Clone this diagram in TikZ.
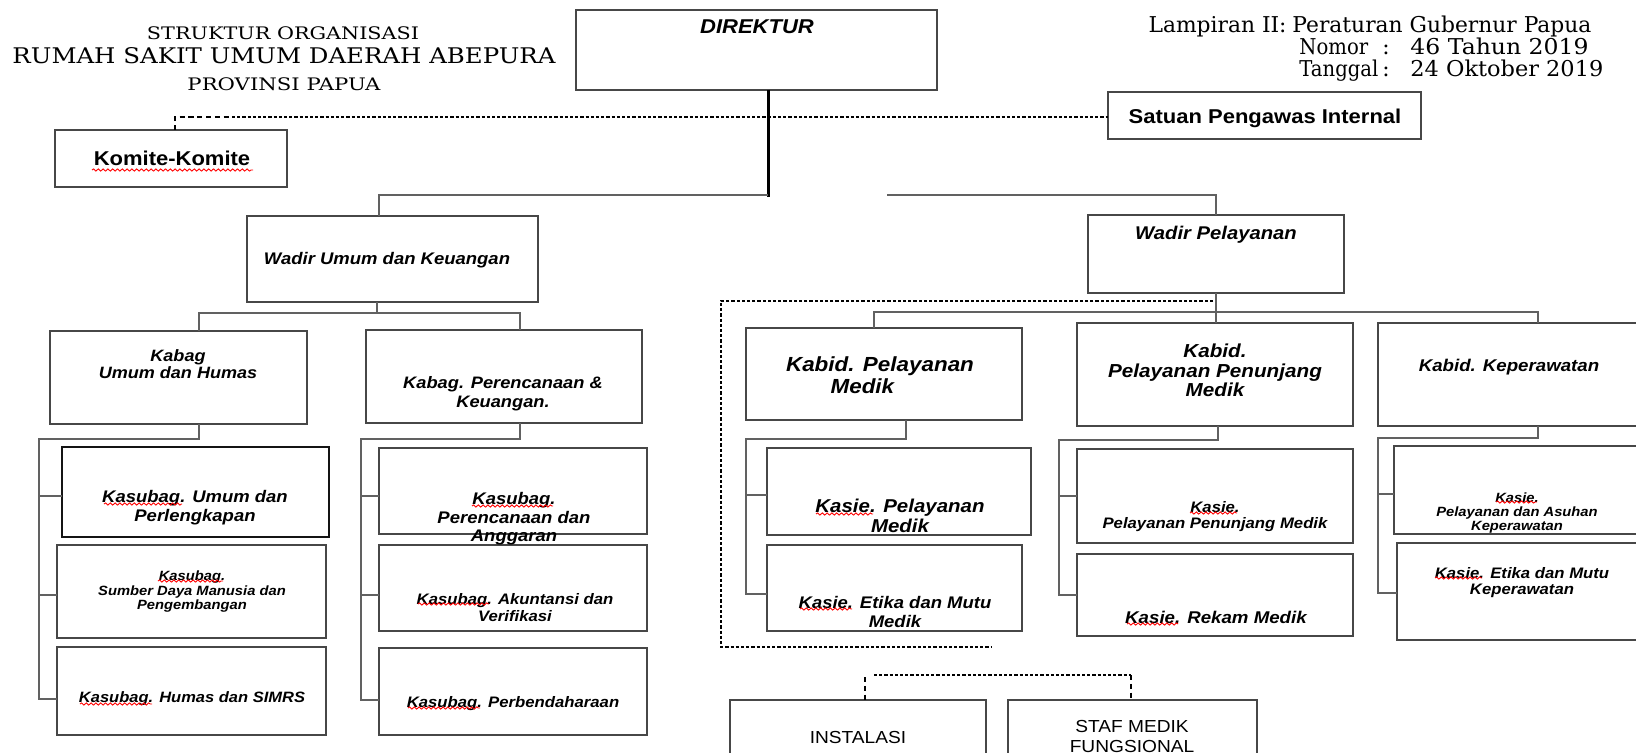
\documentclass[tikz,border=0pt]{standalone}
\usepackage{fontspec}
\setmainfont{Liberation Sans}
\newfontfamily\seriffont{DejaVu Serif}
\usepackage{graphicx}
\usetikzlibrary{decorations.pathmorphing}
\newcommand\lbx[3]{{\fontsize{#1}{#2}\selectfont\scalebox{1.1}[1]{\begin{tabular}{@{}c@{}}#3\end{tabular}}}}
\newcommand\mkbox[6][]{\node[box,#1,minimum width={(#5-#3)*0.5pt},minimum height={(#6-#4)*0.5pt}] (#2) at ({(#3+#5)/2},{(#4+#6)/2}) {};}
\tikzset{
 box/.style={draw=black!72, line width=0.9pt, inner sep=0pt, outer sep=0pt, fill=white},
 conn/.style={draw=black!62, line width=0.9pt},
 dirline/.style={draw=black, line width=1.5pt},
 dline/.style={draw=black, line width=0.6pt, dash pattern=on 1.6pt off 1pt},
 cdline/.style={draw=black, line width=0.7pt, dash pattern=on 2.6pt off 1.8pt},
 lbl/.style={inner sep=0pt, yshift=-1.2pt, font=\bfseries\itshape},
 blbl/.style={inner sep=0pt, yshift=-1.2pt, font=\bfseries},
 plain/.style={inner sep=0pt, yshift=-1.2pt},
 ttl/.style={inner sep=0pt, font=\seriffont},
 squig/.style={draw=red, line width=0.45pt, decorate, decoration={snake, amplitude=0.55pt, segment length=2.4pt}},
}
\begin{document}
\begin{tikzpicture}[x=0.5pt,y=-0.5pt]
\path[use as bounding box] (0,0) rectangle (1636,753);
\fill[white] (0,0) rectangle (1636,753);
\clip (0,0) rectangle (1636,753);

% titles
\node[ttl] (t1) at (283,33) {\resizebox{136pt}{6.4pt}{STRUKTUR ORGANISASI}};
\node[ttl] (t2) at (284,56) {\resizebox{271.5pt}{8pt}{RUMAH SAKIT UMUM DAERAH ABEPURA}};
\node[ttl] (t3) at (284,84) {\resizebox{96.5pt}{6.4pt}{PROVINSI PAPUA}};

\begin{scope}[every node/.style={inner sep=0pt,anchor=base west,font=\seriffont\fontsize{10.9}{12}\selectfont}]
\node[anchor=base east] (l1a) at (1287,33) {Lampiran II:};
\node (l1b) at (1292,33) {Peraturan Gubernur Papua};
\node (l2a) at (1299,55) {\scalebox{0.9}[1]{Nomor}};
\node[anchor=base] (l2b) at (1386,55) {:};
\node (l2c) at (1410,55) {\scalebox{1.08}[1]{46 Tahun 2019}};
\node (l3a) at (1299,77) {\scalebox{0.9}[1]{Tanggal}};
\node[anchor=base] (l3b) at (1386,77) {:};
\node (l3c) at (1410,77) {\scalebox{1.03}[1]{24 Oktober 2019}};
\end{scope}

% junction coordinates
\coordinate (hL) at (379,195);
\coordinate (hM) at (768,195);
\coordinate (dend) at (768,197);
\coordinate (hR) at (887,195);
\coordinate (d0) at (175,117);
\coordinate (d1) at (232,117);
\coordinate (a0) at (199,313);
\coordinate (a1) at (377,313);
\coordinate (a2) at (520,313);
\coordinate (b0) at (199,439);
\coordinate (b1) at (39,439);
\coordinate (b2) at (39,699);
\coordinate (b3) at (39,496);
\coordinate (b4) at (39,595);
\coordinate (m0) at (520,439);
\coordinate (m1) at (361,439);
\coordinate (m2) at (361,700);
\coordinate (m3) at (361,496);
\coordinate (m4) at (361,595);
\coordinate (g1) at (874,312);
\coordinate (g2) at (1538,312);
\coordinate (h0) at (906,439);
\coordinate (h1) at (746,439);
\coordinate (h2) at (746,594);
\coordinate (h3) at (746,495);
\coordinate (i0) at (1218,440);
\coordinate (i1) at (1059,440);
\coordinate (i2) at (1059,595);
\coordinate (i3) at (1059,496);
\coordinate (k0) at (1538,438);
\coordinate (k1) at (1378,438);
\coordinate (k2) at (1378,593);
\coordinate (k3) at (1378,494);
\coordinate (e0) at (1213,301);
\coordinate (e1) at (721,301);
\coordinate (e2) at (721,647);
\coordinate (e3) at (991,647);
\coordinate (f0) at (865,677);
\coordinate (f1) at (874,675);
\coordinate (f2) at (1131,675);

% boxes
\mkbox{dir}{576}{10}{937}{90}
\mkbox{kom}{55}{130}{287}{187}
\mkbox{spi}{1108}{92}{1421}{139}
\mkbox{wu}{247}{216}{538}{302}
\mkbox{wp}{1088}{215}{1344}{293}
\mkbox{kbu}{50}{331}{307}{424}
\mkbox{kbp}{366}{330}{642}{423}
\mkbox[draw=black!92,line width=1.1pt]{ks1}{62}{447}{329}{537}
\mkbox{ks2}{57}{545}{326}{638}
\mkbox{ks3}{57}{647}{326}{735}
\mkbox{ks4}{379}{448}{647}{534}
\mkbox{ks5}{379}{545}{647}{631}
\mkbox{ks6}{379}{648}{647}{735}
\mkbox{kpm}{746}{328}{1022}{420}
\mkbox{kpp}{1077}{323}{1353}{426}
\mkbox{kkp}{1378}{323}{1650}{426}
\mkbox{kpm1}{767}{448}{1031}{535}
\mkbox{kpm2}{767}{545}{1022}{631}
\mkbox{kpp1}{1077}{449}{1353}{543}
\mkbox{kpp2}{1077}{554}{1353}{636}
\mkbox{kkp1}{1394}{446}{1650}{534}
\mkbox{kkp2}{1397}{543}{1650}{640}
\mkbox{ins}{730}{700}{986}{780}
\mkbox{smf}{1008}{700}{1257}{780}

% connectors
\draw[dirline] (dir.south -| dend) -- (dend);
\draw[conn] (hL |- wu.north) -- (hL) -- (hM);
\draw[conn] (hR) -- (hR -| wp.north) -- (wp.north);
\draw[cdline] (kom.north -| d0) -- (d0) -- (d1);
\draw[dline] (d1) -- (d1 -| spi.west);

\draw[conn] (wu.south -| a1) -- (a1);
\draw[conn] (kbu.north -| a0) -- (a0) -- (a2) -- (kbp.north -| a2);
\draw[conn] (kbu.south -| b0) -- (b0) -- (b1) -- (b2) -- (b2 -| ks3.west);
\draw[conn] (b3) -- (b3 -| ks1.west);
\draw[conn] (b4) -- (b4 -| ks2.west);
\draw[conn] (kbp.south -| m0) -- (m0) -- (m1) -- (m2) -- (m2 -| ks6.west);
\draw[conn] (m3) -- (m3 -| ks4.west);
\draw[conn] (m4) -- (m4 -| ks5.west);

\draw[conn] (wp.south) -- (wp.south |- kpp.north);
\draw[conn] (kpm.north -| g1) -- (g1) -- (g2) -- (g2 |- kkp.north);
\draw[conn] (kpm.south -| h0) -- (h0) -- (h1) -- (h2) -- (h2 -| kpm2.west);
\draw[conn] (h3) -- (h3 -| kpm1.west);
\draw[conn] (kpp.south -| i0) -- (i0) -- (i1) -- (i2) -- (i2 -| kpp2.west);
\draw[conn] (i3) -- (i3 -| kpp1.west);
\draw[conn] (kkp.south -| k0) -- (k0) -- (k1) -- (k2) -- (k2 -| kkp2.west);
\draw[conn] (k3) -- (k3 -| kkp1.west);

\draw[dline] (e0) -- (e1) -- (e2) -- (e3);
\draw[cdline] (f0) -- (f0 |- ins.north);
\draw[dline] (f1) -- (f2);
\draw[cdline] (f2) -- (f2 |- smf.north);

% labels
\node[lbl] (dir-t) at (757,27) {\lbx{10}{11}{DIREKTUR}};
\node[blbl] (spi-t) at (1265,117) {\lbx{10}{11}{Satuan Pengawas Internal}};
\node[blbl] (kom-t) at (172,159) {\lbx{10}{11}{Komite-Komite}};
\node[lbl] (wu-t) at (387,258) {\lbx{8.4}{10}{Wadir Umum dan Keuangan}};
\node[lbl] (wp-t) at (1216,233) {\lbx{9.2}{10}{Wadir Pelayanan}};
\node[lbl] (kbu-t) at (178,364) {\lbx{8.2}{9}{Kabag\\Umum dan Humas}};
\node[lbl] (kbp-t) at (503,392) {\lbx{8.3}{9.5}{Kabag. Perencanaan \&\\Keuangan.}};
\node[lbl] (ks1-t) at (195,506) {\lbx{8.4}{9.5}{Kasubag. Umum dan\\Perlengkapan}};
\node[lbl] (ks2-t) at (192,590) {\lbx{6.7}{7.25}{Kasubag.\\Sumber Daya Manusia dan\\Pengembangan}};
\node[lbl] (ks3-t) at (192,697) {\lbx{7.5}{8.5}{Kasubag. Humas dan SIMRS}};
\node[lbl] (ks4-t) at (514,517) {\lbx{8.4}{9.25}{Kasubag.\\Perencanaan dan\\Anggaran}};
\node[lbl] (ks5-t) at (515,607) {\lbx{7.6}{8.5}{Kasubag. Akuntansi dan\\Verifikasi}};
\node[lbl] (ks6-t) at (513,702) {\lbx{7.6}{8.5}{Kasubag. Perbendaharaan}};
\node[lbl] (kpm-t) at (880,376) {\lbx{10.2}{11}{Kabid. Pelayanan\\Medik\kern16pt}};
\node[lbl] (kpp-t) at (1215,371) {\lbx{9.4}{9.75}{Kabid.\\Pelayanan Penunjang\\Medik}};
\node[lbl] (kkp-t) at (1509,365) {\lbx{8.5}{9.5}{Kabid. Keperawatan}};
\node[lbl] (kpm1-t) at (900,516) {\lbx{9.3}{9.75}{Kasie. Pelayanan\\Medik}};
\node[lbl] (kpm2-t) at (895,612) {\lbx{8.4}{9.5}{Kasie. Etika dan Mutu\\Medik}};
\node[lbl] (kpp1-t) at (1215,515) {\lbx{7.6}{7.6}{Kasie.\\Pelayanan Penunjang Medik}};
\node[lbl] (kpp2-t) at (1216,617) {\lbx{8.5}{9.5}{Kasie. Rekam Medik}};
\node[lbl] (kkp1-t) at (1517,511) {\lbx{6.7}{7}{Kasie.\\Pelayanan dan Asuhan\\Keperawatan}};
\node[lbl] (kkp2-t) at (1522,581) {\lbx{7.6}{8}{Kasie. Etika dan Mutu\\Keperawatan}};
\node[plain] (ins-t) at (858,737) {\lbx{8.7}{10}{INSTALASI}};
\node[plain] (smf-t) at (1132,736) {\lbx{8.7}{10}{STAF MEDIK\\FUNGSIONAL}};

% spell-check underlines
\foreach \xa/\xb/\yy in {92/253/170, 104/182/504, 158/223/581, 80/152/704, 472/553/506, 418/489/604, 408/480/708, 816/873/514, 800/852/609, 1190/1237/513, 1127/1178/624, 1496/1537/502, 1435/1482/578}
  \draw[squig] (\xa,\yy) -- (\xb,\yy);
\end{tikzpicture}
\end{document}
